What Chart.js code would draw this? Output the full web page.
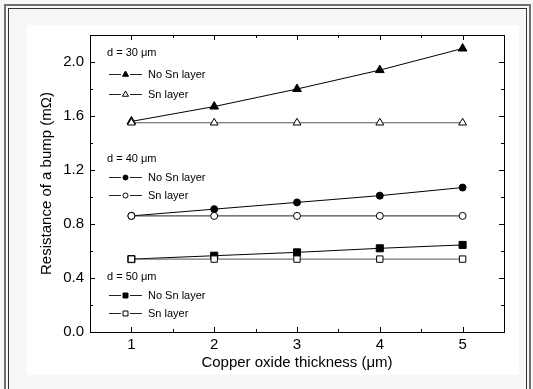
<!DOCTYPE html>
<html>
<head>
<meta charset="utf-8">
<script src="https://cdn.jsdelivr.net/npm/chart.js@4.4.1/dist/chart.umd.min.js"></script>
<style>
  html, body { margin: 0; padding: 0; background: #f7f7f7; overflow: hidden; }
  #wrap { position: relative; width: 533px; height: 389px; }
  .frame-outer { position: absolute; left: 4px; top: 4px; width: 523px; height: 420px; border: 2px solid #707070; }
  .frame-inner { position: absolute; left: 8px; top: 8px; width: 517px; height: 420px; border: 1px solid #333; }
  .paper { position: absolute; left: 27px; top: 25px; width: 492px; height: 350px; background: #fff; }
  canvas { position: absolute; left: 0; top: 0; }
</style>
</head>
<body>
<div id="wrap">
  <div class="frame-outer"></div>
  <div class="frame-inner"></div>
  <div class="paper"></div>
  <canvas id="chart" width="533" height="389"></canvas>
</div>
<script>
// copper oxide thickness (um)
const thickness = [1, 2, 3, 4, 5];

// resistance of a bump (mOhm)
const noSn30 = [1.56, 1.67, 1.80, 1.94, 2.10];
const sn30   = [1.55, 1.55, 1.55, 1.55, 1.55];
const noSn40 = [0.86, 0.91, 0.96, 1.01, 1.07];
const sn40   = [0.86, 0.86, 0.86, 0.86, 0.86];
const noSn50 = [0.54, 0.565, 0.59, 0.62, 0.645];
const sn50   = [0.54, 0.54, 0.54, 0.54, 0.54];

const xTicks = [1, 2, 3, 4, 5];
const xMinor = [1.5, 2.5, 3.5, 4.5];
const yTicks = [0.0, 0.4, 0.8, 1.2, 1.6, 2.0];
const yMinor = [0.2, 0.6, 1.0, 1.4, 1.8];

const groupTitles = ['d = 30 \u03bcm', 'd = 40 \u03bcm', 'd = 50 \u03bcm'];
const seriesLabels = ['No Sn layer', 'Sn layer'];

const pts = vals => thickness.map((x, i) => ({x: x, y: vals[i]}));

function series(vals, shape, filled, radius, color) {
    return {
        data: pts(vals),
        borderColor: color,
        borderWidth: 1,
        pointStyle: shape,
        pointRadius: radius,
        pointBorderWidth: 1,
        pointBorderColor: '#000',
        pointBackgroundColor: filled ? '#000' : '#fff',
        tension: 0
    };
}

// legend blocks drawn inside the plot, one per bump size
const legendBlocks = [
    {rows: [53, 74, 94],    shape: 'triangle', r: 3.5},
    {rows: [159, 177, 195], shape: 'circle',   r: 2.5},
    {rows: [277, 295, 313], shape: 'rect',     r: 3.5}
];

const framePlugin = {
    id: 'frame',
    afterDatasetsDraw(chart) {
        const {ctx, chartArea: a, scales} = chart;
        ctx.save();
        ctx.strokeStyle = '#000';
        ctx.lineWidth = 1;
        ctx.strokeRect(a.left + 0.5, a.top + 0.5, a.right - a.left, a.bottom - a.top);

        ctx.beginPath();
        const tx = (v, len) => {
            const px = Math.round(scales.x.getPixelForValue(v)) + 0.5;
            ctx.moveTo(px, a.bottom); ctx.lineTo(px, a.bottom - len);
            ctx.moveTo(px, a.top); ctx.lineTo(px, a.top + len);
        };
        const ty = (v, len) => {
            const py = Math.round(scales.y.getPixelForValue(v)) + 0.5;
            ctx.moveTo(a.left, py); ctx.lineTo(a.left + len, py);
            ctx.moveTo(a.right, py); ctx.lineTo(a.right - len, py);
        };
        xTicks.forEach(v => tx(v, 5));
        xMinor.forEach(v => tx(v, 3));
        yTicks.forEach(v => ty(v, 5));
        yMinor.forEach(v => ty(v, 3));
        ctx.stroke();

        // legend blocks
        ctx.font = '11px "Liberation Sans", Arial, sans-serif';
        ctx.fillStyle = '#000';
        ctx.textBaseline = 'middle';
        legendBlocks.forEach((b, i) => {
            ctx.fillText(groupTitles[i], 107, b.rows[0]);
            [true, false].forEach((filled, j) => {
                const y = b.rows[j + 1] + 0.5;
                ctx.beginPath();
                ctx.strokeStyle = '#222';
                ctx.moveTo(109, y); ctx.lineTo(121, y);
                ctx.moveTo(130, y); ctx.lineTo(142, y);
                ctx.stroke();
                ctx.fillStyle = filled ? '#000' : '#fff';
                ctx.strokeStyle = '#000';
                Chart.helpers.drawPoint(ctx, {pointStyle: b.shape, radius: b.r, borderWidth: 1}, 125.5, y);
                ctx.fillStyle = '#000';
                ctx.fillText(seriesLabels[j], 148, y);
            });
        });
        ctx.restore();
    }
};

const font = {family: '"Liberation Sans", Arial, sans-serif', size: 15};

new Chart(document.getElementById('chart').getContext('2d'), {
    type: 'line',
    data: {
        datasets: [
            series(sn30, 'triangle', false, 4.5, '#555'),
            series(sn40, 'circle', false, 3.5, '#222'),
            series(sn50, 'rect', false, 4.5, '#555'),
            series(noSn30, 'triangle', true, 5, '#000'),
            series(noSn40, 'circle', true, 3.5, '#000'),
            series(noSn50, 'rect', true, 5, '#000')
        ]
    },
    options: {
        responsive: false,
        animation: false,
        layout: {padding: {top: 35, right: 29, left: 0, bottom: 0}},
        plugins: {legend: {display: false}, tooltip: {enabled: false}},
        scales: {
            x: {
                type: 'linear',
                min: 0.5,
                max: 5.5,
                afterBuildTicks: s => { s.ticks = xTicks.map(v => ({value: v})); },
                afterFit: s => { s.height = 57; },
                grid: {display: false, drawTicks: false},
                border: {display: false},
                ticks: {color: '#000', font: font, padding: 4, maxRotation: 0},
                title: {display: true, text: 'Copper oxide thickness (\u03bcm)', color: '#000', font: font, padding: {top: 0, bottom: 17}}
            },
            y: {
                min: 0,
                max: 2.2,
                afterBuildTicks: s => { s.ticks = yTicks.map(v => ({value: v})); },
                afterFit: s => { s.width = 90; },
                grid: {display: false, drawTicks: false},
                border: {display: false},
                ticks: {color: '#000', font: font, padding: 6, callback: v => v.toFixed(1)},
                title: {display: true, text: 'Resistance of a bump (m\u03a9)', color: '#000', font: font, padding: {top: 38, bottom: 0}}
            }
        }
    },
    plugins: [framePlugin]
});
</script>
</body>
</html>
